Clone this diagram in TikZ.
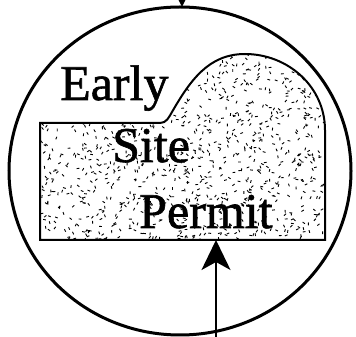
\documentclass[tikz,border=0pt]{standalone}
\usepackage{fontspec}
\setmainfont{Liberation Serif}
\newfontfamily\signfont[FakeBold=1.2]{Liberation Serif}
\usetikzlibrary{arrows.meta}

\begin{document}
\begin{tikzpicture}[x=1pt,y=1pt,
    word/.style={anchor=base west,inner sep=0pt,font=\signfont\fontsize{50}{50}\selectfont},
    feed/.style={line width=1.8pt,-{Stealth[length=30pt,width=29pt,inset=8pt]}},
    siteshape/.style={insert path={(40,97) -- (325,97) -- (325,207)
      to[out=90,in=0] (245,283) to[out=180,in=60] (172,225)
      to[out=240,in=0] (160,214) -- (40,214) -- cycle}}]
    \clip (0,0) rectangle (356,337);
    % outer disk
    \draw[line width=3pt] (180,166) ellipse (171 and 164);
    % stippled site area
    \begin{scope}
      \clip[siteshape];
      \pgfmathsetseed{11}
      \foreach \i in {1,...,1100}{
        \pgfmathsetmacro\px{40+285*rnd}
        \pgfmathsetmacro\py{97+186*rnd}
        \pgfmathsetmacro\pa{360*rnd}
        \draw[line width=0.9pt] (\px,\py) -- ++(\pa:2.8);
      }
    \end{scope}
    \draw[line width=2pt,siteshape];
    \node[word] (early) at (60,237) {Early};
    \node[word] (site) at (112,175) {Site};
    \node[word] (permit) at (139,109) {Permit};
    % arrows in and out
    \coordinate (inlet) at (216,-10);
    \coordinate (boxfoot) at (216,97);
    \coordinate (source) at (182,380);
    \coordinate (rim) at (182,330);
    \draw[feed] (inlet) -- (boxfoot);
    \draw[feed] (source) -- (rim);
  \end{tikzpicture}
\end{document}
